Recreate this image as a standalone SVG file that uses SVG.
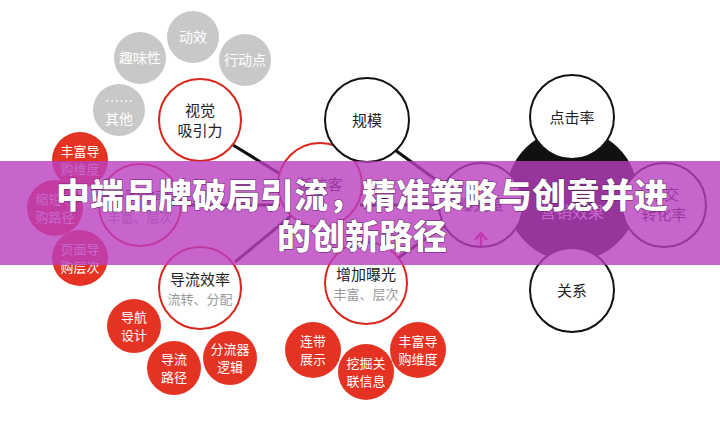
<svg xmlns="http://www.w3.org/2000/svg" width="720" height="429" viewBox="0 0 720 429">
<style>
text{font-family:"Noto Sans CJK SC","Liberation Sans",sans-serif;text-anchor:middle}
.g circle{fill:#c8c8c8}.g text{fill:#fff;font-size:14px}
.rw circle{fill:#fff;stroke:#d9261c;stroke-width:2}
.bw circle{fill:#fff;stroke:#111;stroke-width:2}
.t{fill:#222;font-size:15px}.s{fill:#999;font-size:13px}
.r circle{fill:#e53323}.r text{fill:#fff;font-size:13px}
.title{fill:#fff;font-size:34px;font-weight:900;stroke:#5a1a60;stroke-width:1;paint-order:stroke}
</style>
<rect width="720" height="429" fill="#fff"/>
<g id="connectors" stroke="#111" stroke-width="3">
<line x1="233" y1="145" x2="290" y2="180"/>
<line x1="395" y1="150" x2="450" y2="190"/>
<line x1="235" y1="262" x2="292" y2="215"/>
<line x1="398" y1="258" x2="450" y2="222"/>
<line x1="180" y1="205" x2="280" y2="205"/>
<line x1="360" y1="205" x2="440" y2="205"/>
</g>
<g class="g">
<g id="n-dx"><circle cx="193" cy="37" r="26"/><text x="193" y="42">动效</text></g>
<g id="n-qw"><circle cx="140" cy="58" r="26"/><text x="140" y="63">趣味性</text></g>
<g id="n-xd"><circle cx="245" cy="60" r="26"/><text x="245" y="65">行动点</text></g>
<g id="n-qt"><circle cx="119" cy="110" r="26"/><text x="119" y="106">……</text><text x="119" y="124">其他</text></g>
</g>
<g id="n-yx"><circle cx="572" cy="195" r="66" fill="#111"/><text x="572" y="218" fill="#fff" font-size="16">营销效果</text></g>
<g class="rw">
<g id="n-sj"><circle cx="200" cy="120" r="41"/><text class="t" x="200" y="116">视觉</text><text class="t" x="200" y="136">吸引力</text></g>
<g id="n-dg"><circle cx="140" cy="205" r="41"/><text class="t" x="140" y="202">导购效率</text><text class="s" x="140" y="222">丰富、层次</text></g>
<g id="n-ll"><circle cx="320" cy="185" r="42"/><text class="t" x="320" y="190">新访客</text></g>
<g id="n-dl"><circle cx="200" cy="288" r="41"/><text class="t" x="200" y="285">导流效率</text><text class="s" x="200" y="304">流转、分配</text></g>
<g id="n-zj"><circle cx="366" cy="283" r="41"/><text class="t" x="366" y="280">增加曝光</text><text class="s" x="366" y="299">丰富、层次</text></g>
</g>
<g class="bw">
<g id="n-gm"><circle cx="367" cy="120" r="42"/><text class="t" x="367" y="126">规模</text></g>
<g id="n-dj"><circle cx="572" cy="117" r="42"/><text class="t" x="572" y="123">点击率</text></g>
<g id="n-bg"><circle cx="481" cy="205" r="42" stroke="#6a1a70"/><text class="t" x="481" y="210">曝光量</text><path d="M481 246v-12M475 240l6-7 6 7" stroke="#d9267c" stroke-width="2.5" fill="none"/></g>
<g id="n-zh"><circle cx="664" cy="205" r="42"/><text class="t" x="664" y="200">成交</text><text class="t" x="664" y="220">转化率</text></g>
<g id="n-gx"><circle cx="572" cy="290" r="42"/><text class="t" x="572" y="296">关系</text></g>
</g>
<g class="r">
<g id="r1"><circle cx="80" cy="160" r="28"/><text x="80" y="156">丰富导</text><text x="80" y="174">购维度</text></g>
<g id="r2"><circle cx="55" cy="208" r="28"/><text x="55" y="204">缩短导</text><text x="55" y="222">购路径</text></g>
<g id="r3"><circle cx="80" cy="258" r="28"/><text x="80" y="254">页面导</text><text x="80" y="272">购层次</text></g>
<g id="r4"><circle cx="134" cy="326" r="27"/><text x="134" y="322">导航</text><text x="134" y="340">设计</text></g>
<g id="r5"><circle cx="174" cy="368" r="27"/><text x="174" y="364">导流</text><text x="174" y="382">路径</text></g>
<g id="r6"><circle cx="230" cy="358" r="27"/><text x="230" y="354">分流器</text><text x="230" y="372">逻辑</text></g>
<g id="r7"><circle cx="313" cy="350" r="28"/><text x="313" y="346">连带</text><text x="313" y="364">展示</text></g>
<g id="r8"><circle cx="366" cy="372" r="28"/><text x="366" y="368">挖掘关</text><text x="366" y="386">联信息</text></g>
<g id="r9"><circle cx="418" cy="350" r="28"/><text x="418" y="346">丰富导</text><text x="418" y="364">购维度</text></g>
</g>
<rect x="0" y="161" width="720" height="104" fill="#b93fc0" opacity="0.8"/>
<text class="title" x="362" y="208">中端品牌破局引流，精准策略与创意并进</text>
<text class="title" x="362" y="249">的创新路径</text>
</svg>
